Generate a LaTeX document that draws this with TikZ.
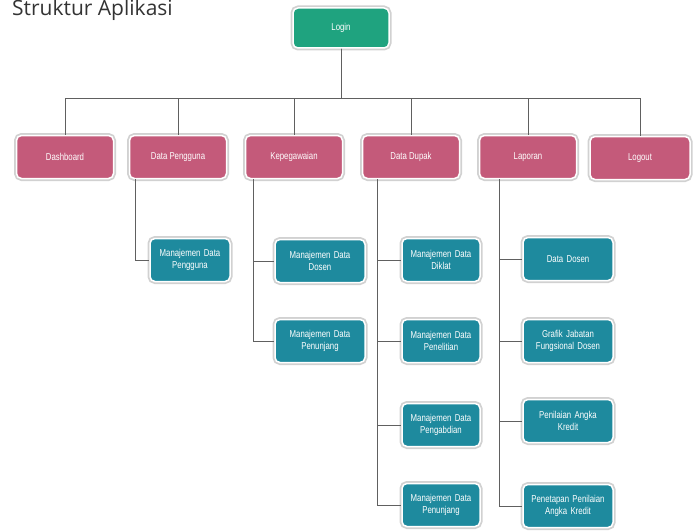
\documentclass[tikz,border=0pt]{standalone}
\usepackage{fontspec}
\setmainfont{Liberation Sans}
\newfontfamily\titlefont{Open Sans}
\newfontfamily\boxfont[FakeStretch=0.78]{Liberation Sans}
\definecolor{pinkbox}{HTML}{C45A7A}
\definecolor{tealbox}{HTML}{1E8A9E}
\definecolor{greenbox}{HTML}{1FA37F}
\definecolor{linegray}{HTML}{606060}
\tikzset{
  basebox/.style={rounded corners=5pt, draw=white, line width=1.5pt,
    preaction={draw=black!18, line width=5pt},
    text=white, font=\boxfont\fontsize{10}{12}\selectfont, align=center,
    inner sep=1pt},
  topbox/.style={basebox, fill=pinkbox, minimum width=97pt, minimum height=43pt},
  rootbox/.style={basebox, fill=greenbox, minimum width=96pt, minimum height=40pt},
  subbox/.style={basebox, fill=tealbox, minimum height=43pt, text width=#1pt},
  conn/.style={draw=linegray, line width=0.9pt}
}
\begin{document}
\begin{tikzpicture}[x=1pt,y=-1pt]
\useasboundingbox (0,0) rectangle (698,532);
\node[anchor=base west, inner sep=0pt, font=\titlefont\fontsize{21}{24}\selectfont, text=black!80] (title) at (12,16) {Struktur Aplikasi};

\node[rootbox] (login) at (341,28) {Login};

\node[topbox] (dash) at (65,157) {Dashboard};
\node[topbox] (dp) at (178,157) {Data Pengguna};
\node[topbox] (kep) at (294,157) {Kepegawaian};
\node[topbox] (dd) at (411,157) {Data Dupak};
\node[topbox] (lap) at (528,157) {Laporan};
\node[topbox, minimum width=100pt] (out) at (640,158) {Logout};

\node[subbox=76, minimum width=80pt] (mdp) at (190,260) {Manajemen Data\\Pengguna};
\node[subbox=86, minimum width=90pt] (mdd) at (320,261) {Manajemen Data\\Dosen};
\node[subbox=86, minimum width=90pt] (mdpen) at (320,341) {Manajemen Data\\Penunjang};

\node[subbox=74, minimum width=78pt] (mdk) at (441,260) {Manajemen Data\\Diklat};
\node[subbox=74, minimum width=78pt] (mdpl) at (441,341) {Manajemen Data\\Penelitian};
\node[subbox=74, minimum width=78pt] (mdpg) at (441,425) {Manajemen Data\\Pengabdian};
\node[subbox=74, minimum width=78pt] (mdpj) at (441,505) {Manajemen Data\\Penunjang};

\node[subbox=86, minimum width=90pt] (ldos) at (568,259) {Data Dosen};
\node[subbox=86, minimum width=90pt] (lgraf) at (568,341) {Grafik Jabatan\\Fungsional Dosen};
\node[subbox=86, minimum width=90pt] (lpak) at (568,421) {Penilaian Angka\\Kredit};
\node[subbox=86, minimum width=90pt] (lpen) at (568,506) {Penetapan Penilaian\\Angka Kredit};

% top-level connectors
\foreach \n in {dash,dp,kep,dd,lap,out}
  \draw[conn] (login.south) -- ++(0,50) -| (\n.north);

% children
\draw[conn] ([xshift=7pt]dp.south west) |- (mdp.west);
\foreach \n in {mdd,mdpen}
  \draw[conn] ([xshift=9pt]kep.south west) |- (\n.west);
\foreach \n in {mdk,mdpl,mdpg,mdpj}
  \draw[conn] ([xshift=16pt]dd.south west) |- (\n.west);
\foreach \n in {ldos,lgraf,lpak,lpen}
  \draw[conn] ([xshift=21pt]lap.south west) |- (\n.west);
\end{tikzpicture}
\end{document}
